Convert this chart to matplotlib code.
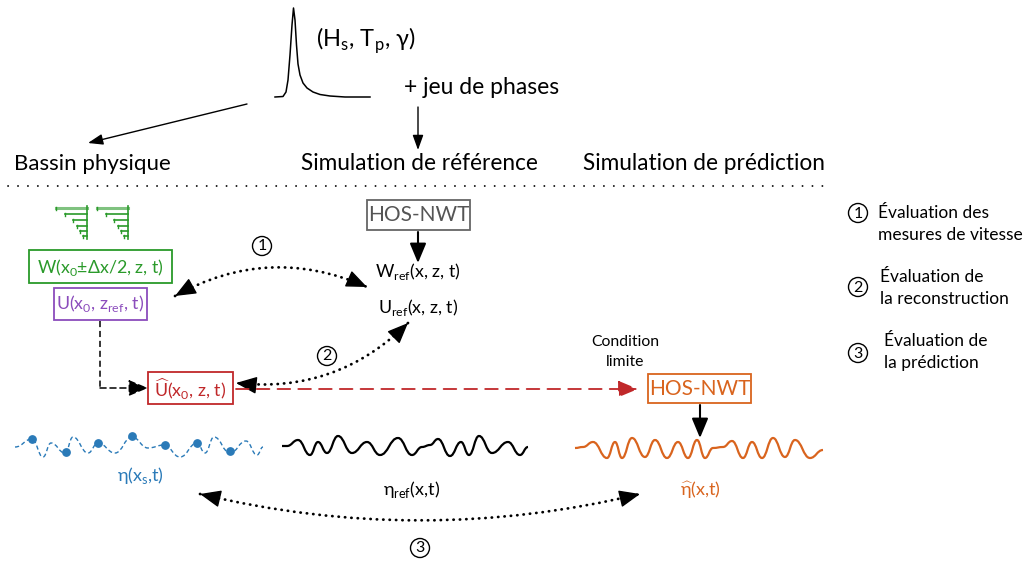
import numpy as np
import matplotlib
matplotlib.use("Agg")
import matplotlib.pyplot as plt
from matplotlib.patches import Rectangle, Circle, PathPatch
from matplotlib.path import Path

plt.rcParams["font.family"] = ["Lato", "DejaVu Sans"]
plt.rcParams["mathtext.fontset"] = "custom"
plt.rcParams["mathtext.rm"] = "Lato"
plt.rcParams["mathtext.fallback"] = "stixsans"

# colours
GREEN = "#2a9a2a"
PURPLE = "#8b4cbc"
RED = "#c0282a"
ORANGE = "#d9641e"
BLUE = "#2a7ab8"
GREY = "#555555"

# spectrum sketch (pixel coords)
spec_x = [275, 283, 286, 288, 290, 292, 293.5, 295, 296.5, 298, 300, 303, 307, 313, 320, 330, 345, 370]
spec_y = [97, 96.5, 92, 80, 55, 25, 8, 20, 45, 64, 75, 83, 88, 92, 94.5, 96, 97, 97]

# wave extremes (pixel coords)
blue_x = [15, 32, 43, 51, 65, 73, 88, 98, 115, 132, 148, 164, 180, 197, 205, 214, 230, 246, 257, 263]
blue_y = [447, 439, 457, 443, 453, 437, 453, 443, 453, 437, 448, 445, 457, 443, 453, 437, 453, 441, 455, 447]
blue_dot_x = [32, 66, 98, 132, 165, 197, 230]
blue_dot_y = [439, 452, 443, 436, 445, 443, 451]

black_x = [282, 287, 298, 310, 318, 327, 338, 352, 367, 380, 398, 412, 422, 430, 438, 450, 461, 469, 479, 492, 508, 520, 528]
black_y = [446, 446, 440, 455, 442, 453, 436, 453, 442, 455, 438, 455, 447, 445, 439, 456, 442, 455, 436, 453, 442, 455, 447]

orange_x = [575, 583, 593, 607, 615, 622, 632, 645, 655, 667, 678, 688, 697, 705, 713, 723, 732, 743, 752, 762, 773, 785, 795, 810, 823]
orange_y = [448, 447, 442, 458, 442, 458, 438, 457, 440, 458, 442, 458, 440, 458, 448, 447, 441, 458, 442, 458, 438, 457, 440, 458, 450]

# probe arrays: left ends of the horizontal bars, bar heights
probe_left = [0, 9, 17, 21, 24, 27]
probe_rows = [208, 214, 220, 226, 231, 236]

legend_labels = ["Évaluation des\nmesures de vitesse",
                 "Évaluation de\nla reconstruction",
                 "Évaluation de\nla prédiction"]

fig = plt.figure(figsize=(10.27, 5.66), dpi=100)
ax = fig.add_axes([0, 0, 1, 1])
ax.set_xlim(0, 1027)
ax.set_ylim(566, 0)
ax.axis("off")


def wave_path(xs, ys):
    verts = [(xs[0], ys[0])]
    codes = [Path.MOVETO]
    for i in range(1, len(xs)):
        d = (xs[i] - xs[i - 1]) * 0.45
        verts += [(xs[i - 1] + d, ys[i - 1]), (xs[i] - d, ys[i]), (xs[i], ys[i])]
        codes += [Path.CURVE4] * 3
    return Path(verts, codes)


def arrow(start, end, color="black", lw=1.3, ls="-", cs="arc3", style="-|>,head_length=0.6,head_width=0.25", ms=20):
    ax.annotate("", xy=end, xytext=start,
                arrowprops=dict(arrowstyle=style, color=color, lw=lw, linestyle=ls,
                                connectionstyle=cs, shrinkA=0, shrinkB=0,
                                mutation_scale=ms))


def dotted_double(a, b, rad):
    # dotted quadratic curve, with solid heads at both ends
    (x1, y1), (x2, y2) = a, b
    cx = (x1 + x2) / 2 - rad * (y2 - y1)
    cy = (y1 + y2) / 2 + rad * (x2 - x1)
    path = Path([a, (cx, cy), b], [Path.MOVETO, Path.CURVE3, Path.CURVE3])
    ax.add_patch(PathPatch(path, fill=False, ec="black", lw=2.0,
                           linestyle=(0, (0.1, 2.2)), capstyle="round"))
    for (px, py) in (a, b):
        ux, uy = px - cx, py - cy
        n = np.hypot(ux, uy)
        tail = (px - 4 * ux / n, py - 4 * uy / n)
        arrow(tail, (px, py), lw=1.0, style="-|>,head_length=0.65,head_width=0.27", ms=20)


def circled(x, y, n, size=11.5):
    ax.add_patch(Circle((x, y), 9.5, fill=False, lw=1.0, color="black"))
    ax.text(x, y + 0.5, str(n), ha="center", va="center", fontsize=size)


# top: spectrum and parameters
ax.plot(spec_x, spec_y, color="black", lw=1.1)
ax.text(316, 41, r"(H$_{\mathregular{s}}$, T$_{\mathregular{p}}$, γ)", fontsize=17, va="center")
ax.text(404, 88, "+ jeu de phases", fontsize=16.5, va="center")
arrow((247, 104), (88, 143), lw=1.0, style="-|>,head_length=0.5,head_width=0.18", ms=18)
arrow((418, 107), (418, 150), lw=1.0, style="-|>,head_length=0.5,head_width=0.18", ms=18)

# column headers
ax.text(14, 164, "Bassin physique", fontsize=16, va="center")
ax.text(301, 164, "Simulation de référence", fontsize=16.3, va="center")
ax.text(583, 164, "Simulation de prédiction", fontsize=16.3, va="center")
ax.plot([8, 826], [186, 186], color="black", lw=1.3, linestyle=(0, (0.1, 5.4)), dash_capstyle="round")

# probe arrays (green)
for x0 in [87, 128]:
    ax.plot([x0, x0], [probe_rows[0] - 2, probe_rows[-1] + 3], color=GREEN, lw=1.2)
    for k, (dl, yr) in enumerate(zip(probe_left, probe_rows)):
        left = x0 - 31 + dl
        ax.plot([left, x0], [yr, yr], color=GREEN, lw=2.2 if k == 0 else 1.2,
                alpha=0.6 if k == 0 else 1.0)
        ax.plot([left, left], [yr - 1.5, yr + 1.5], color=GREEN, lw=1.0)

# boxes on the left
ax.add_patch(Rectangle((29, 250), 143, 33, fill=False, ec=GREEN, lw=1.3))
ax.text(100.5, 267, r"W(x$_{\mathregular{0}}$±Δx/2, z, t)", color=GREEN, fontsize=12.8, ha="center", va="center")
ax.add_patch(Rectangle((54, 288), 93, 32, fill=False, ec=PURPLE, lw=1.3))
ax.text(100.5, 304, r"U(x$_{\mathregular{0}}$, z$_{\mathregular{ref}}$, t)", color=PURPLE, fontsize=12.8, ha="center", va="center")

# reference simulation
ax.add_patch(Rectangle((367, 200), 103, 30, fill=False, ec="#666666", lw=1.3))
ax.text(418.5, 215, "HOS-NWT", color=GREY, fontsize=15, ha="center", va="center")
arrow((418, 232), (418, 263), lw=1.5)
ax.text(418, 272, r"W$_{\mathregular{ref}}$(x, z, t)", fontsize=12.8, ha="center", va="center")
ax.text(418, 307, r"U$_{\mathregular{ref}}$(x, z, t)", fontsize=12.8, ha="center", va="center")

# evaluation arrows 1 and 2
circled(262, 246, 1)
dotted_double((175, 296), (367, 287), -0.25)
circled(327, 356, 2)
dotted_double((408, 323), (236, 383), -0.24)

# reconstruction box
ax.plot([100, 100], [321, 388], color="black", lw=1.1, linestyle=(0, (4, 2.5)))
arrow((100, 388), (148, 388), lw=1.1, ls=(0, (4, 2.5)))
ax.add_patch(Rectangle((148, 372), 85, 32, fill=False, ec=RED, lw=1.3))
ax.text(190.5, 389, r"$\widehat{\mathregular{U}}$(x$_{\mathregular{0}}$, z, t)", color=RED, fontsize=12.8, ha="center", va="center")
arrow((236, 389), (638, 389), color=RED, lw=1.3, ls=(0, (7, 4.5)))

# prediction
ax.text(625, 352, "Condition\nlimite", fontsize=11.3, ha="center", va="center", linespacing=1.5)
ax.add_patch(Rectangle((648, 374), 103, 29, fill=False, ec=ORANGE, lw=1.3))
ax.text(699.5, 389, "HOS-NWT", color=ORANGE, fontsize=15, ha="center", va="center")
arrow((700, 405), (700, 438), lw=1.5)

# waves
ax.add_patch(PathPatch(wave_path(blue_x, blue_y), fill=False, ec=BLUE, lw=1.0, linestyle=(0, (3, 2))))
ax.scatter(blue_dot_x, blue_dot_y, s=28, color=BLUE, zorder=3)
ax.text(140, 476, r"η(x$_{\mathregular{s}}$,t)", color=BLUE, fontsize=13, ha="center", va="center")
ax.add_patch(PathPatch(wave_path(black_x, black_y), fill=False, ec="black", lw=1.6))
ax.text(412, 489, r"η$_{\mathregular{ref}}$(x,t)", fontsize=13, ha="center", va="center")
ax.add_patch(PathPatch(wave_path(orange_x, orange_y), fill=False, ec=ORANGE, lw=1.6))
ax.text(700, 489, r"$\widehat{\mathregular{η}}$(x,t)", color=ORANGE, fontsize=13, ha="center", va="center")

# evaluation arrow 3
dotted_double((200, 494), (640, 494), 0.12)
circled(420, 548, 3)

# legend on the right
for (cy, ty, tx), n, lab in zip([(213, 224, 878), (287, 288, 880), (353, 352, 884)], [1, 2, 3], legend_labels):
    circled(858, cy, n)
    ax.text(tx, ty, lab, fontsize=12.5, va="center", linespacing=1.5)

fig.savefig("out.png", dpi=100)
